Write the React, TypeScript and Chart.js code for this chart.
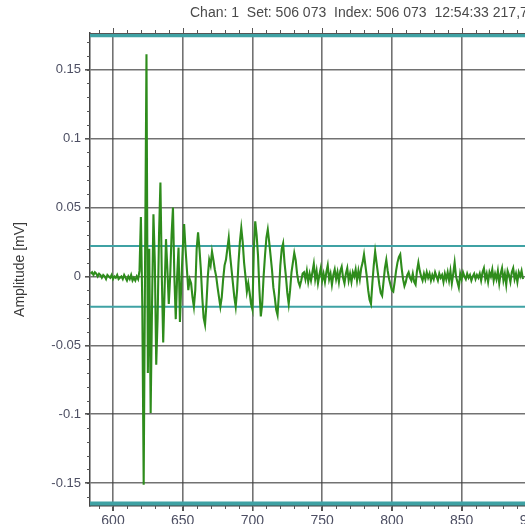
import { useEffect, useRef } from 'react';
import { Chart, registerables } from 'chart.js';

Chart.register(...registerables);

const TITLE = 'Chan: 1  Set: 506 073  Index: 506 073  12:54:33 217,734 000';
const Y_LABEL = 'Amplitude [mV]';

// sample index of the first value; one value per sample
const TIME_START = 584;

const PRE = [
  0.002, 0.003, 0.001, 0.003, 0.002, 0.0, 0.002, 0.001, -0.001, 0.001,
  0.0, -0.002, 0.001, 0.0, -0.001, 0.001, -0.002, 0.0, -0.001, 0.001,
  -0.002, -0.001, 0.0, -0.002, 0.001, -0.001, -0.003, 0.0, -0.002, 0.001,
  -0.003, -0.001, -0.003, 0.0, -0.002,
];

const BURST = [
  0.004, 0.043, -0.02, -0.151, 0.01, 0.161, -0.07, 0.02, -0.099, -0.02,
  0.045, 0.01, -0.064, -0.03, 0.03, 0.068, 0.0, -0.048, -0.01, 0.027,
  0.005, -0.02, 0.0, 0.03, 0.05, 0.0, -0.031, 0.0, 0.021, -0.033,
  -0.005, 0.02, 0.038, 0.02, 0.005, -0.01, -0.002, -0.005, -0.015, -0.022,
  -0.01, 0.02, 0.032, 0.02, 0.005, -0.015, -0.03, -0.035, -0.02, 0.0,
  0.012, 0.008, 0.018, 0.012, 0.005, 0.0, -0.008, -0.015, -0.022, -0.015,
  -0.002, 0.008, 0.012, 0.02, 0.028, 0.015, 0.005, -0.005, -0.015, -0.022,
  -0.01, 0.01, 0.025, 0.035, 0.025, 0.01, 0.0, -0.011, -0.005, -0.012,
  -0.02, -0.024, 0.02, 0.04, 0.03, 0.015, -0.01, -0.029, -0.02, 0.0,
  0.015, 0.028, 0.034, 0.025, 0.015, 0.005, -0.008, -0.015, -0.024, -0.028,
  -0.012, 0.008, 0.02, 0.024, 0.01, 0.0, -0.012, -0.02, -0.01, 0.003,
  0.01, 0.017, 0.012, 0.002, -0.004, -0.007, -0.003, 0.002, 0.003,
];

const CODA = [
  -0.002, 0.004, -0.004, 0.002, -0.003, 0.003, 0.009, -0.002, 0.004, -0.005,
  0.001, 0.006, -0.003, 0.002, -0.004, 0.003, 0.008, -0.002, 0.002, -0.006,
  0.001, 0.005, -0.002, 0.003, -0.004, 0.004, 0.007, -0.001, -0.005, 0.002,
  0.006, -0.003, 0.002, -0.004, 0.003, 0.0, 0.005, -0.003, 0.004, -0.002,
  0.006, 0.01, 0.016, 0.008, 0.0, -0.01, -0.017, -0.02, -0.005, 0.008,
  0.018, 0.01, 0.002, -0.006, -0.012, -0.014, -0.004, 0.006, 0.012, 0.004,
  -0.002, -0.006, -0.01, -0.011, -0.004, 0.004, 0.01, 0.014, 0.016, 0.006,
  -0.002, -0.007, -0.004, 0.001, 0.003, -0.001, -0.003, 0.002, -0.004, -0.006,
  0.004, 0.01, 0.004, 0.0, -0.003, 0.002,
];

const TAIL = [
  -0.002, 0.003, -0.001, 0.002, -0.003, 0.001, -0.002, 0.003, 0.0, -0.003,
  0.002, -0.001, 0.001, -0.004, 0.002, -0.002, 0.003, -0.003, 0.004, -0.005,
  0.002, 0.01, 0.0, -0.004, -0.008, 0.002, -0.002, 0.003, 0.0, -0.002,
  0.002, -0.001, 0.001, -0.003, 0.0, 0.002, -0.002, 0.001, -0.001, 0.002,
  -0.003, 0.003, 0.006, -0.002, 0.002, -0.004, 0.003, 0.0, 0.005, -0.003,
  0.002, -0.002, 0.004, -0.005, 0.002, 0.006, -0.003, 0.002, -0.006, 0.004,
  0.001, -0.004, 0.003, 0.006, -0.002, 0.002, -0.004, 0.003, 0.0, 0.004, -0.002,
];

const THRESHOLDS = [0.022, -0.022];
const LIMITS = [0.1748, -0.1647];

const X_TICKS = [600, 650, 700, 750, 800, 850, 900];
const Y_TICKS = [0.15, 0.1, 0.05, 0, -0.05, -0.1, -0.15];
const X_MIN = 583.5;
const X_MAX = 900;
const Y_MIN = -0.1665;
const Y_MAX = 0.1765;
const X_MINOR_STEP = 10;
const Y_MINOR_STEP = 0.01;

const GREEN = '#2e8c1c';
const TEAL = '#3fa2a4';
const GRID = 'rgba(60,60,60,0.72)';
const TICK_TEXT = '#4d4f63';
const FONT = '"Liberation Sans", Arial, sans-serif';

const decorPlugin = {
  id: 'decor',
  afterDraw(chart: any) {
    const { ctx, chartArea: a, scales } = chart;
    const xs = scales.x;
    const ys = scales.y;
    ctx.save();
    ctx.strokeStyle = '#555';
    ctx.lineWidth = 1;
    ctx.beginPath();
    ctx.moveTo(a.left, a.top + 0.5);
    ctx.lineTo(a.right, a.top + 0.5);
    ctx.stroke();
    for (let v = Math.ceil(X_MIN / X_MINOR_STEP) * X_MINOR_STEP; v <= X_MAX; v += X_MINOR_STEP) {
      const px = Math.round(xs.getPixelForValue(v)) + 0.5;
      const major = v % 50 === 0;
      ctx.beginPath();
      ctx.moveTo(px, a.bottom);
      ctx.lineTo(px, a.bottom + (major ? 5 : 3));
      ctx.moveTo(px, a.top);
      ctx.lineTo(px, a.top - (major ? 5 : 3));
      ctx.stroke();
    }
    for (let i = Math.ceil(Y_MIN / Y_MINOR_STEP); i * Y_MINOR_STEP <= Y_MAX; i++) {
      const py = Math.round(ys.getPixelForValue(i * Y_MINOR_STEP)) + 0.5;
      ctx.beginPath();
      ctx.moveTo(a.left, py);
      ctx.lineTo(a.left - 3, py);
      ctx.stroke();
    }
    ctx.fillStyle = '#4a4a4a';
    ctx.font = `14px ${FONT}`;
    ctx.textAlign = 'left';
    ctx.textBaseline = 'middle';
    ctx.fillText(TITLE, a.left + 100, 13);
    ctx.restore();
  },
};

export default function App() {
  const ref = useRef<HTMLCanvasElement>(null);
  useEffect(() => {
    const canvas = ref.current!;
    const amps = [...PRE, ...BURST, ...CODA, ...TAIL];
    const wave = amps.map((v, i) => ({ x: TIME_START + i, y: v }));
    const hline = (v: number) => [
      { x: X_MIN, y: v },
      { x: X_MAX, y: v },
    ];
    const chart = new Chart(canvas, {
      type: 'line',
      data: {
        datasets: [
          { data: wave, borderColor: GREEN, borderWidth: 2.1, pointRadius: 0, tension: 0 },
          ...THRESHOLDS.map((t) => ({
            data: hline(t),
            borderColor: TEAL,
            borderWidth: 2,
            pointRadius: 0,
          })),
          ...LIMITS.map((t) => ({
            data: hline(t),
            borderColor: TEAL,
            borderWidth: 4,
            pointRadius: 0,
          })),
        ],
      },
      options: {
        responsive: false,
        animation: false,
        layout: { padding: { top: 33, right: 12, left: 0, bottom: 0 } },
        plugins: {
          legend: { display: false },
          tooltip: { enabled: false },
          title: { display: false },
        },
        scales: {
          x: {
            type: 'linear',
            min: X_MIN,
            max: X_MAX,
            afterBuildTicks: (s: any) => {
              s.ticks = X_TICKS.map((value) => ({ value }));
            },
            afterFit: (s: any) => {
              s.height = 34;
            },
            grid: { color: GRID, lineWidth: 1.6, tickLength: 5, tickColor: '#555' },
            border: { color: '#444', width: 1.5 },
            ticks: {
              font: { family: FONT, size: 14 },
              color: TICK_TEXT,
              padding: 2,
              maxRotation: 0,
              autoSkip: false,
              callback: (v: any) => String(v),
            },
          },
          y: {
            type: 'linear',
            min: Y_MIN,
            max: Y_MAX,
            afterBuildTicks: (s: any) => {
              s.ticks = Y_TICKS.map((value) => ({ value }));
            },
            afterFit: (s: any) => {
              s.width = 90;
            },
            grid: { color: GRID, lineWidth: 1.6, tickLength: 5, tickColor: '#555' },
            border: { color: '#444', width: 1.5 },
            ticks: {
              font: { family: FONT, size: 13 },
              color: TICK_TEXT,
              padding: 4,
              autoSkip: false,
              callback: (v: any) => String(v),
            },
            title: {
              display: true,
              text: Y_LABEL,
              font: { family: FONT, size: 14 },
              color: '#3a3a3a',
              padding: { top: 12, bottom: 0 },
            },
          },
        },
      },
      plugins: [decorPlugin],
    } as any);
    return () => chart.destroy();
  }, []);

  return (
    <div
      style={{
        position: 'fixed',
        left: 0,
        top: 0,
        width: 525,
        height: 524,
        overflow: 'hidden',
        background: '#fff',
      }}
    >
      <canvas ref={ref} width={545} height={540} style={{ width: 545, height: 540, display: 'block' }} />
    </div>
  );
}
